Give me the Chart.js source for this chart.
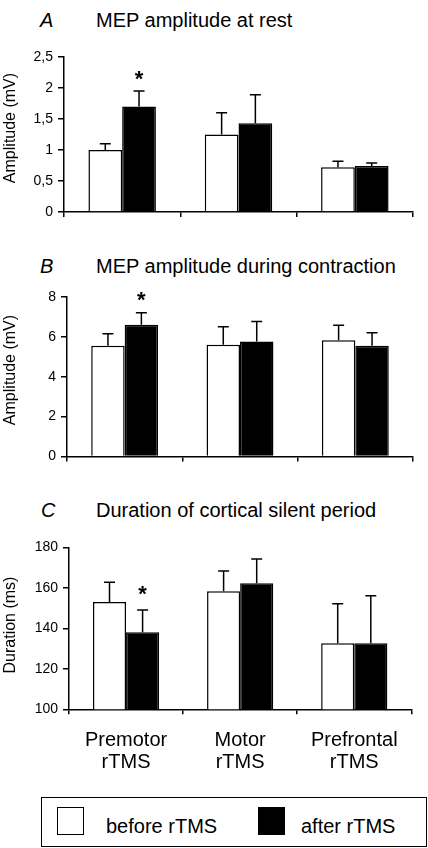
<!DOCTYPE html>
<html>
<head>
<meta charset="utf-8">
<script src="https://cdn.jsdelivr.net/npm/chart.js@4.4.1/dist/chart.umd.min.js"></script>
<style>
  html, body { margin: 0; padding: 0; background: #fff; }
  #wrap { position: relative; width: 428px; height: 848px; overflow: hidden; background: #fff;
          font-family: 'Liberation Sans', Arial, Helvetica, sans-serif; color: #000; }
  canvas { position: absolute; left: 0; }
  .t { position: absolute; font-size: 20px; line-height: 20px; white-space: nowrap; }
  .it { font-style: italic; }
  #legend { position: absolute; left: 41px; top: 797px; width: 386px; height: 50px;
            border: 1.5px solid #000; box-sizing: border-box; }
  .sq { position: absolute; box-sizing: border-box; width: 27px; height: 28px; border: 1.5px solid #000; }
</style>
</head>
<body>
<div id="wrap">
  <div class="t it" style="left:40px; top:10px;">A</div>
  <div class="t" style="left:96px; top:10px;">MEP amplitude at rest</div>
  <div class="t it" style="left:40px; top:256px;">B</div>
  <div class="t" style="left:96px; top:256px;">MEP amplitude during contraction</div>
  <div class="t it" style="left:41px; top:500px;">C</div>
  <div class="t" style="left:96px; top:500px;">Duration of cortical silent period</div>

  <canvas id="cA" width="428" height="230" style="top:0px;width:428px;height:230px;"></canvas>
  <canvas id="cB" width="428" height="240" style="top:230px;width:428px;height:240px;"></canvas>
  <canvas id="cC" width="428" height="320" style="top:470px;width:428px;height:320px;"></canvas>

  <div id="legend"></div>
  <div class="sq" style="left:57px; top:807px; background:#fff;"></div>
  <div class="t" style="left:106px; top:816px;">before rTMS</div>
  <div class="sq" style="left:258px; top:807px; background:#000;"></div>
  <div class="t" style="left:301px; top:816px;">after rTMS</div>
</div>
<script>
// ---------- data ----------
const categories = [['Premotor', 'rTMS'], ['Motor', 'rTMS'], ['Prefrontal', 'rTMS']];
const seriesNames = ['before rTMS', 'after rTMS'];

const restBefore = [1.0, 1.25, 0.72];
const restBeforeErr = [0.1, 0.35, 0.1];
const restAfter = [1.7, 1.43, 0.74];
const restAfterErr = [0.25, 0.46, 0.05];
const restSig = [true, false, false];
const restTicks = [0, 0.5, 1, 1.5, 2, 2.5];

const contrBefore = [5.55, 5.6, 5.82];
const contrBeforeErr = [0.6, 0.9, 0.75];
const contrAfter = [6.6, 5.76, 5.55];
const contrAfterErr = [0.6, 1.0, 0.65];
const contrSig = [true, false, false];
const contrTicks = [0, 2, 4, 6, 8];

const cspBefore = [153, 158.3, 132.6];
const cspBeforeErr = [9.7, 10, 19.5];
const cspAfter = [138, 162.2, 132.6];
const cspAfterErr = [11, 12, 23.5];
const cspSig = [true, false, false];
const cspTicks = [100, 120, 140, 160, 180];

// ---------- setup ----------
const FONT = "'Liberation Sans', Arial, Helvetica, sans-serif";
Chart.defaults.font.family = FONT;
Chart.defaults.color = '#000';

function makeErrPlugin(errors, sig, gap, yTitle, yTitleCenter) {
  return {
    id: 'errbars',
    afterDraw(chart) {
      const ctx = chart.ctx;
      ctx.save();
      ctx.translate(11, yTitleCenter);
      ctx.rotate(-Math.PI / 2);
      ctx.fillStyle = '#000';
      ctx.font = '16px ' + FONT;
      ctx.textAlign = 'center';
      ctx.textBaseline = 'middle';
      ctx.fillText(yTitle, 0, 0);
      ctx.restore();
    },
    afterDatasetsDraw(chart) {
      const ctx = chart.ctx;
      const ys = chart.scales.y;
      chart.data.datasets.forEach((ds, i) => {
        const meta = chart.getDatasetMeta(i);
        meta.data.forEach((bar, j) => {
          const v = ds.data[j];
          const yTop = ys.getPixelForValue(v + errors[i][j]);
          const yBar = ys.getPixelForValue(v);
          ctx.save();
          ctx.strokeStyle = '#000';
          ctx.lineWidth = 1.5;
          ctx.beginPath();
          ctx.moveTo(bar.x, yBar);
          ctx.lineTo(bar.x, yTop);
          ctx.moveTo(bar.x - 5.5, yTop);
          ctx.lineTo(bar.x + 5.5, yTop);
          ctx.stroke();
          if (i === 1 && sig[j]) {
            ctx.fillStyle = '#000';
            ctx.font = 'bold 22px ' + FONT;
            ctx.textAlign = 'center';
            ctx.textBaseline = 'alphabetic';
            ctx.fillText('*', bar.x, yTop - gap + 12.5);
          }
          ctx.restore();
        });
      });
    }
  };
}

function makeChart(id, cfg) {
  const tickVals = cfg.ticks;
  return new Chart(document.getElementById(id), {
    type: 'bar',
    data: {
      labels: categories,
      datasets: [
        { label: seriesNames[0], data: cfg.before, backgroundColor: '#fff', borderColor: '#000', borderWidth: 1.5 },
        { label: seriesNames[1], data: cfg.after, backgroundColor: '#000', borderColor: '#000', borderWidth: 1.5 }
      ]
    },
    options: {
      responsive: false,
      animation: false,
      devicePixelRatio: 1,
      layout: { padding: { left: 0, right: cfg.padRight, top: cfg.padTop, bottom: cfg.padBottom } },
      datasets: { bar: { categoryPercentage: 0.58, barPercentage: 1.0 } },
      plugins: { legend: { display: false }, tooltip: { enabled: false } },
      scales: {
        x: {
          offset: true,
          grid: { display: true, drawOnChartArea: false, drawTicks: true, tickLength: 5, color: '#000', lineWidth: 1.5, offset: true },
          border: { display: true, color: '#000', width: 1.5 },
          ticks: { display: cfg.showLabels, padding: 15, color: '#000', font: { size: 20, lineHeight: 1.1 }, maxRotation: 0, autoSkip: false },
          afterFit: s => { s.height = cfg.xHeight; }
        },
        y: {
          min: tickVals[0],
          max: tickVals[tickVals.length - 1],
          afterBuildTicks: s => { s.ticks = tickVals.map(v => ({ value: v })); },
          grid: { display: true, drawOnChartArea: false, drawTicks: true, tickLength: 6, color: '#000', lineWidth: 1.5 },
          border: { display: true, color: '#000', width: 1.5 },
          ticks: { padding: 5, color: '#000', font: { size: 14 }, callback: v => String(v).replace('.', ',') },
          title: { display: false },
          afterFit: s => { s.width = cfg.yWidth; }
        }
      }
    },
    plugins: [makeErrPlugin(cfg.errors, cfg.sig, cfg.starGap, cfg.yTitle, cfg.yTitleCenter)]
  });
}

makeChart('cA', {
  before: restBefore, after: restAfter, errors: [restBeforeErr, restAfterErr], sig: restSig,
  ticks: restTicks, yTitle: 'Amplitude (mV)', yTitleCenter: 128, showLabels: false,
  yWidth: 64, padRight: 15, padTop: 57, padBottom: 10, xHeight: 8, starGap: 18
});
makeChart('cB', {
  before: contrBefore, after: contrAfter, errors: [contrBeforeErr, contrAfterErr], sig: contrSig,
  ticks: contrTicks, yTitle: 'Amplitude (mV)', yTitleCenter: 140, showLabels: false,
  yWidth: 67, padRight: 15, padTop: 66.7, padBottom: 3.3, xHeight: 8, starGap: 18
});
makeChart('cC', {
  before: cspBefore, after: cspAfter, errors: [cspBeforeErr, cspAfterErr], sig: cspSig,
  ticks: cspTicks, yTitle: 'Duration (ms)', yTitleCenter: 155, showLabels: true,
  yWidth: 69, padRight: 16.7, padTop: 77.3, padBottom: 10.7, xHeight: 70, starGap: 22
});
</script>
</body>
</html>
